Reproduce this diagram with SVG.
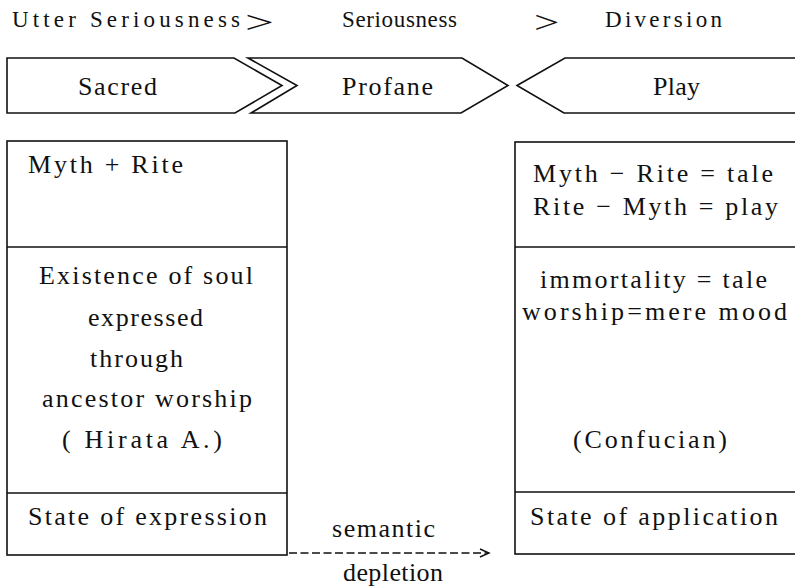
<svg xmlns="http://www.w3.org/2000/svg" width="795" height="588" viewBox="0 0 795 588" font-family="Liberation Serif, serif">
<defs>
<style>
text{fill:#111;}
.t{font-size:23px;}
.b{font-size:26px;}
.gt{font-size:32px;}
.ln{fill:none;stroke:#111;stroke-width:1.6;stroke-linejoin:miter;}
.sh{fill:#fff;stroke:#111;stroke-width:1.6;stroke-linejoin:miter;}
.dash{fill:none;stroke:#111;stroke-width:1.5;stroke-dasharray:8 3.5;}
</style>
<marker id="arr" markerWidth="12" markerHeight="10" refX="10" refY="5" orient="auto" markerUnits="userSpaceOnUse">
<path d="M1,1 L10,5 L1,9" fill="none" stroke="#111" stroke-width="1.4"/>
</marker>
</defs>
<rect width="795" height="588" fill="#fff"/>

<g id="scale-title" font-family="Liberation Serif, serif">
<text class="t" x="12" y="27" textLength="228" lengthAdjust="spacing">Utter Seriousness</text>
<text class="gt" transform="translate(245,33) scale(1.6,1)" x="0" y="0">&gt;</text>
<text class="t" x="342" y="27" textLength="115" lengthAdjust="spacing">Seriousness</text>
<text class="gt" transform="translate(534,33) scale(1.4,1)" x="0" y="0">&gt;</text>
<text class="t" x="605" y="27" textLength="117" lengthAdjust="spacing">Diversion</text>
</g>

<g id="sacred" font-family="Liberation Serif, serif">
<polygon class="sh" points="7,58 234,58 282,85.5 235,113 7,113"/>
<text class="b" x="78" y="95" textLength="79" lengthAdjust="spacing">Sacred</text>
</g>
<g id="profane" font-family="Liberation Serif, serif">
<polygon class="sh" points="248,58 462,58 508,85.5 461,113 251,113 297,85.5"/>
<text class="b" x="342" y="95" textLength="91" lengthAdjust="spacing">Profane</text>
</g>
<g id="play" font-family="Liberation Serif, serif">
<polygon class="sh" points="517,85.5 565,58 800,58 800,113 564,113"/>
<text class="b" x="653" y="95" textLength="47" lengthAdjust="spacing">Play</text>
</g>

<g id="sacred-box" font-family="Liberation Serif, serif">
<rect class="ln" x="7" y="141" width="280" height="414"/>
<line class="ln" x1="7" y1="247" x2="287" y2="247"/>
<line class="ln" x1="7" y1="493" x2="287" y2="493"/>
<text class="b" x="28" y="173" textLength="155" lengthAdjust="spacing">Myth + Rite</text>
<text class="b" x="39" y="284" textLength="214" lengthAdjust="spacing">Existence of soul</text>
<text class="b" x="88" y="326" textLength="115" lengthAdjust="spacing">expressed</text>
<text class="b" x="90" y="367" textLength="93" lengthAdjust="spacing">through</text>
<text class="b" x="42" y="407" textLength="210" lengthAdjust="spacing">ancestor worship</text>
<text class="b" x="62" y="448" textLength="160" lengthAdjust="spacing">( Hirata A.)</text>
<text class="b" x="28" y="525" textLength="239" lengthAdjust="spacing">State of expression</text>
</g>

<g id="play-box" font-family="Liberation Serif, serif">
<rect class="ln" x="515" y="142" width="290" height="412"/>
<line class="ln" x1="515" y1="247" x2="800" y2="247"/>
<line class="ln" x1="515" y1="492" x2="800" y2="492"/>
<text class="b" x="533" y="182" textLength="240" lengthAdjust="spacing">Myth − Rite = tale</text>
<text class="b" x="533" y="215" textLength="245" lengthAdjust="spacing">Rite − Myth = play</text>
<text class="b" x="540" y="288" textLength="227" lengthAdjust="spacing">immortality = tale</text>
<text class="b" x="522" y="320" textLength="265" lengthAdjust="spacing">worship=mere mood</text>
<text class="b" x="573" y="448" textLength="154" lengthAdjust="spacing">(Confucian)</text>
<text class="b" x="530" y="525" textLength="248" lengthAdjust="spacing">State of application</text>
</g>

<g id="connectors" font-family="Liberation Serif, serif">
<line class="dash" x1="289" y1="553" x2="489" y2="553" marker-end="url(#arr)"/>
<text class="b" x="332" y="537" textLength="103" lengthAdjust="spacing">semantic</text>
<text class="b" x="343" y="581" textLength="100" lengthAdjust="spacing">depletion</text>
</g>
</svg>
